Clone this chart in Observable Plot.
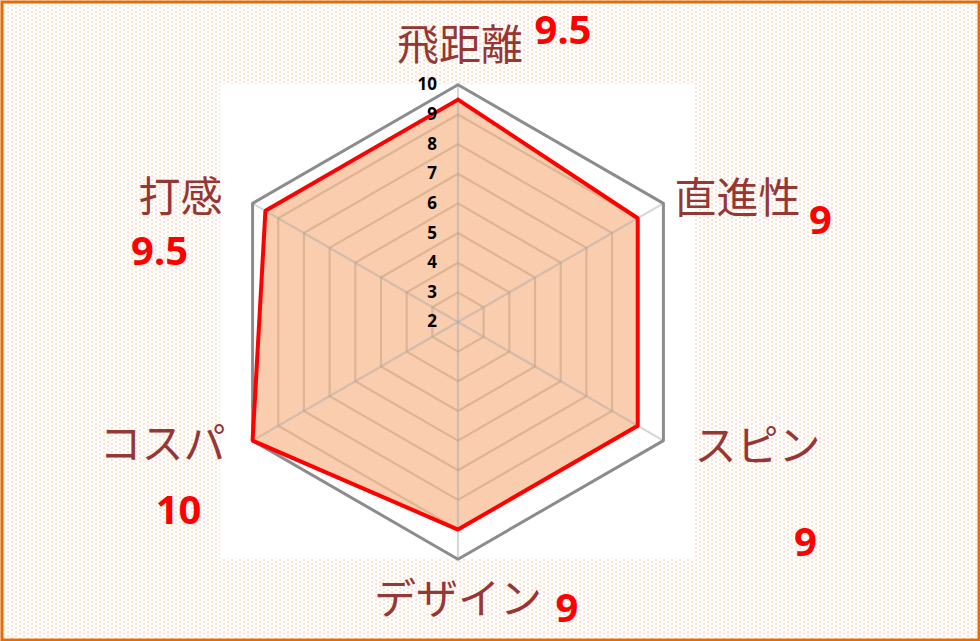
<!DOCTYPE html>
<html>
<head>
<meta charset="utf-8">
<script src="https://cdn.jsdelivr.net/npm/d3@7"></script>
<script src="https://cdn.jsdelivr.net/npm/@observablehq/plot@0.6"></script>
<style>
  html, body { margin: 0; padding: 0; background: #fff; }
  #chart svg { display: block; }
</style>
</head>
<body>
<div id="chart"></div>
<script>
// ---- data ----
const categories = ["飛距離", "直進性", "スピン", "デザイン", "コスパ", "打感"];
const values = [9.5, 9, 9, 9, 10, 9.5];
const valueLabels = ["9.5", "9", "9", "9", "10", "9.5"];
const ticks = [2, 3, 4, 5, 6, 7, 8, 9, 10];
const axisMin = 2;
const axisMax = 10;

// ---- layout (pixels) ----
const W = 980, H = 641;
const cx = 457.5, cy = 321.5, unit = 29.65;
const labelOffsets = [[2, -38], [74, -4], [94, 7], [0, 41], [-90, 5], [-72, -5]];
const valueOffsets = [[105, -54], [157, 18], [142, 103], [109, 50], [-74, 71], [-93, 49]];

const n = categories.length;
const angle = i => Math.PI / 2 - i * 2 * Math.PI / n;
const px = (r, i) => r * Math.cos(angle(i));
const py = (r, i) => r * Math.sin(angle(i));
const R = axisMax - axisMin;

// rings
const ringPts = [];
ticks.filter(t => t > axisMin && t < axisMax).forEach(t => {
  for (let i = 0; i <= n; i++) ringPts.push({t, x: px(t - axisMin, i % n), y: py(t - axisMin, i % n)});
});
const outerPts = d3.range(n + 1).map(i => ({x: px(R, i % n), y: py(R, i % n)}));
const seriesPts = d3.range(n + 1).map(i => ({x: px(values[i % n] - axisMin, i % n), y: py(values[i % n] - axisMin, i % n)}));
const spokes = categories.map((c, i) => ({c, x: px(R, i), y: py(R, i)}));
const catLabels = categories.map((c, i) => ({
  text: c,
  x: px(R, i) + labelOffsets[i][0] / unit,
  y: py(R, i) - labelOffsets[i][1] / unit
}));
const valLabels = valueLabels.map((v, i) => ({
  text: v,
  x: px(R, i) + valueOffsets[i][0] / unit,
  y: py(R, i) - valueOffsets[i][1] / unit
}));

const xDomain = [-cx / unit, (W - cx) / unit];
const yDomain = [(cy - H) / unit, cy / unit];

const bgStyle = "background-color:#fff;" +
  "background-image:radial-gradient(circle, #fde2ce 0.7px, transparent 1px), radial-gradient(circle, #fde2ce 0.7px, transparent 1px);" +
  "background-size:8px 4px, 8px 4px;background-position:0 0, 4px 2px;";

const chart = Plot.plot({
  width: W,
  height: H,
  margin: 0,
  x: {domain: xDomain, axis: null},
  y: {domain: yDomain, axis: null},
  style: bgStyle,
  marks: [
    Plot.rect([{}], {x1: -R, x2: R, y1: -R, y2: R, fill: "white"}),
    Plot.line(seriesPts, {x: "x", y: "y", fill: "#F9CDAE", stroke: "none"}),
    Plot.line(ringPts, {x: "x", y: "y", z: "t", stroke: "#DDB595", strokeWidth: 2.2}),
    Plot.link(spokes, {x1: 0, y1: 0, x2: "x", y2: "y", stroke: "#a6a6a6", strokeOpacity: 0.45, strokeWidth: 2.2}),
    Plot.line(outerPts, {x: "x", y: "y", stroke: "#8C8C8C", strokeWidth: 3}),
    Plot.line(seriesPts, {x: "x", y: "y", stroke: "#FF0000", strokeWidth: 4, strokeLinejoin: "miter"}),
    Plot.text(ticks, {x: 0, y: t => t - axisMin, text: t => String(t), textAnchor: "end", dx: -21,
      fontWeight: "bold", fontSize: 17, fill: "#000", fontFamily: "'Noto Sans', sans-serif"}),
    Plot.text(catLabels, {x: "x", y: "y", text: "text", fontSize: 42, fontWeight: 400, fill: "#953735",
      fontFamily: "'Noto Sans CJK JP', sans-serif"}),
    Plot.text(valLabels, {x: "x", y: "y", text: "text", fontSize: 40, fontWeight: "bold", fill: "#FF0000",
      fontFamily: "'Noto Sans', sans-serif"}),
    Plot.frame({stroke: "#E36C09", strokeWidth: 3, inset: 1.5})
  ]
});
document.getElementById("chart").append(chart);
</script>
</body>
</html>
